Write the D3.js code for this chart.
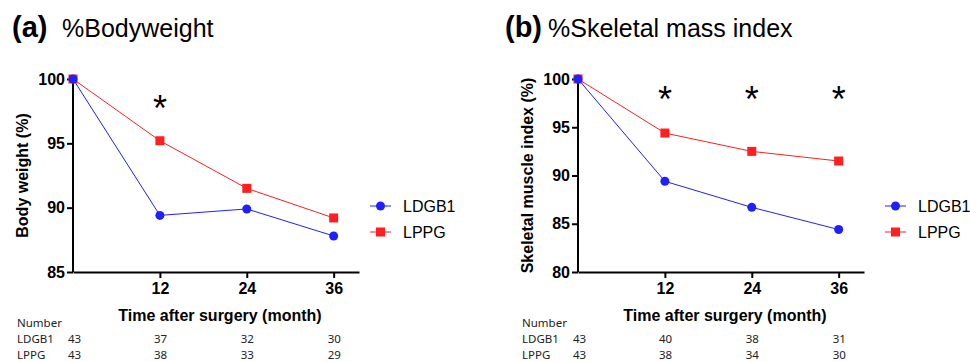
<!DOCTYPE html>
<html>
<head>
<meta charset="utf-8">
<script src="https://cdn.jsdelivr.net/npm/d3@7"></script>
<style>
  body { margin: 0; background: #fff; }
  svg { font-family: "Liberation Sans", Arial, sans-serif; }
</style>
</head>
<body>
<div id="chart"></div>
<script>
// months on the x axis
const months = [0, 12, 24, 36];
const tickMonths = [12, 24, 36];

// panel a: % body weight
const bwLDGB1 = [100, 89.4, 89.9, 87.8];
const bwLPPG = [100, 95.2, 91.5, 89.2];
const bwStars = [12];
const bwTicks = [85, 90, 95, 100];
const bwNumLDGB1 = [43, 37, 32, 30];
const bwNumLPPG = [43, 38, 33, 29];

// panel b: % skeletal muscle index
const smLDGB1 = [100, 89.4, 86.7, 84.4];
const smLPPG = [100, 94.4, 92.5, 91.5];
const smStars = [12, 24, 36];
const smTicks = [80, 85, 90, 95, 100];
const smNumLDGB1 = [43, 40, 38, 31];
const smNumLPPG = [43, 38, 34, 30];

const seriesNames = ["LDGB1", "LPPG"];
const colors = { LDGB1: "#1f1fff", LPPG: "#ff1f1f" };

const svg = d3.select("#chart").append("svg").attr("width", 970).attr("height", 362);

function drawPanel(opt) {
  const x = d3.scaleLinear().domain([0, 39.5]).range([opt.left, opt.left + 286]);
  const y = d3.scaleLinear().domain(opt.yDomain).range([272, 79]);
  const g = svg.append("g");

  // titles
  g.append("text").attr("x", opt.left + opt.tagDx).attr("y", 37).style("font-size", "29px").style("font-weight", "bold").text(opt.tag);
  g.append("text").attr("x", opt.left + opt.titleDx).attr("y", 37).style("font-size", "25px").text(opt.title);

  // axes
  const yAxis = g.append("g").attr("transform", `translate(${opt.left},0)`)
    .call(d3.axisLeft(y).tickValues(opt.ticks).tickSize(6).tickPadding(2));
  const xAxis = g.append("g").attr("transform", "translate(0,272)")
    .call(d3.axisBottom(x).tickValues(tickMonths).tickSize(6).tickPadding(5).tickSizeOuter(0));
  [yAxis, xAxis].forEach(a => {
    a.attr("font-size", 16).attr("font-family", "'Liberation Sans', Arial, sans-serif");
    a.select(".domain").attr("stroke", "#000").attr("stroke-width", 2);
    a.selectAll(".tick line").attr("stroke", "#000").attr("stroke-width", 2);
    a.selectAll(".tick text").attr("fill", "#000").style("font-size", "16px").style("font-weight", "bold");
  });
  yAxis.select(".domain").attr("d", `M0,${y.range()[0]}V${y.range()[1]}`);

  g.append("text").attr("transform", `translate(${opt.left - 45},${(79 + 272) / 2}) rotate(-90)`)
    .attr("text-anchor", "middle").style("font-size", "16px").style("font-weight", "bold").text(opt.yLabel);
  g.append("text").attr("x", opt.left + 147).attr("y", 321).attr("text-anchor", "middle")
    .style("font-size", "16px").style("font-weight", "bold").text("Time after surgery (month)");

  // lines and markers
  const line = d3.line().x((d, i) => x(months[i])).y(d => y(d));
  const data = { LDGB1: opt.ldgb1, LPPG: opt.lppg };
  ["LPPG", "LDGB1"].forEach(name => {
    g.append("path").datum(data[name]).attr("fill", "none").attr("stroke", colors[name]).attr("stroke-width", 1).attr("d", line);
  });
  g.selectAll(".sq").data(opt.lppg).enter().append("rect")
    .attr("x", (d, i) => x(months[i]) - 4.5).attr("y", d => y(d) - 4.5).attr("width", 9).attr("height", 9).attr("fill", colors.LPPG);
  g.selectAll(".dot").data(opt.ldgb1).enter().append("circle")
    .attr("cx", (d, i) => x(months[i])).attr("cy", d => y(d)).attr("r", 4.5).attr("fill", colors.LDGB1);

  // significance stars
  g.selectAll(".star").data(opt.stars).enter().append("text")
    .attr("x", d => x(d)).attr("y", opt.starY).attr("text-anchor", "middle")
    .style("font-size", "36px").text("*");

  // legend
  const lg = g.append("g").attr("transform", `translate(${opt.left + opt.legendDx},0)`);
  seriesNames.forEach((name, i) => {
    const ly = 206 + i * 26;
    lg.append("line").attr("x1", 0).attr("x2", 21).attr("y1", ly).attr("y2", ly).attr("stroke", colors[name]).attr("stroke-width", 1);
    if (name === "LDGB1") lg.append("circle").attr("cx", 10.5).attr("cy", ly).attr("r", 4.5).attr("fill", colors[name]);
    else lg.append("rect").attr("x", 6).attr("y", ly - 4.5).attr("width", 9).attr("height", 9).attr("fill", colors[name]);
    lg.append("text").attr("x", 33).attr("y", ly + 6).style("font-size", "16px").text(name);
  });

  // number at risk table
  const tbl = g.append("g").style("font-size", "11.5px").style("font-family", "'Noto Sans', sans-serif").attr("fill", "#222");
  tbl.append("text").attr("x", opt.left - 56).attr("y", 327).text("Number");
  [["LDGB1", opt.numL], ["LPPG", opt.numP]].forEach((row, r) => {
    const ty = 343 + r * 16;
    tbl.append("text").attr("x", opt.left - 56).attr("y", ty).text(row[0]);
    tbl.selectAll(null).data(row[1]).enter().append("text")
      .attr("x", (d, i) => x(months[i]) - 5 + (i === 0 ? 0 : -1)).attr("y", ty).text(d => d);
  });
}

drawPanel({ left: 73, tag: "(a)", title: "%Bodyweight", tagDx: -61, titleDx: -11, legendDx: 297,
  yDomain: [85, 100], ticks: bwTicks,
  yLabel: "Body weight  (%)", ldgb1: bwLDGB1, lppg: bwLPPG, stars: bwStars, starY: 121,
  numL: bwNumLDGB1, numP: bwNumLPPG });
drawPanel({ left: 578, tag: "(b)", title: "%Skeletal mass index", tagDx: -73, titleDx: -30, legendDx: 307,
  yDomain: [80, 100], ticks: smTicks,
  yLabel: "Skeletal muscle index (%)", ldgb1: smLDGB1, lppg: smLPPG, stars: smStars, starY: 112,
  numL: smNumLDGB1, numP: smNumLPPG });
</script>
</body>
</html>
